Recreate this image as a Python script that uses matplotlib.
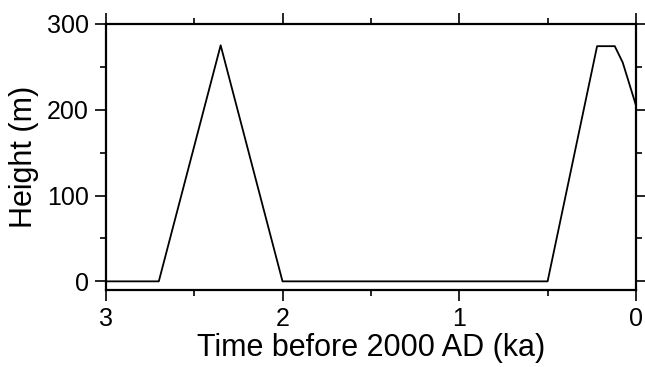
import matplotlib
matplotlib.use("Agg")
import matplotlib.pyplot as plt
from matplotlib.ticker import MultipleLocator

# time before 2000 AD (ka) and height (m)
time_ka = [3.0, 2.7, 2.35, 2.0, 0.5, 0.22, 0.12, 0.075, 0.0]
height_m = [0, 0, 275, 0, 0, 274, 274, 255, 205]

plt.rcParams["font.family"] = ["Liberation Sans", "DejaVu Sans"]

fig = plt.figure(figsize=(6.45, 3.67), dpi=100)
ax = fig.add_axes([0.164, 0.21, 0.822, 0.725])

ax.plot(time_ka, height_m, color="black", linewidth=1.3)

ax.set_xlim(3, 0)
ax.set_ylim(-10, 300)

ax.xaxis.set_major_locator(MultipleLocator(1))
ax.xaxis.set_minor_locator(MultipleLocator(0.5))
ax.yaxis.set_major_locator(MultipleLocator(100))
ax.yaxis.set_minor_locator(MultipleLocator(50))

ax.tick_params(which="both", direction="out", top=True, right=True,
               width=1.2, labelsize=18)
ax.tick_params(which="major", length=8, pad=4)
ax.tick_params(which="minor", length=4)

for s in ax.spines.values():
    s.set_linewidth(1.6)

ax.set_xlabel("Time before 2000 AD (ka)", fontsize=22, labelpad=2)
ax.set_ylabel("Height (m)", fontsize=22, labelpad=6)

fig.savefig("out.png", dpi=100)
